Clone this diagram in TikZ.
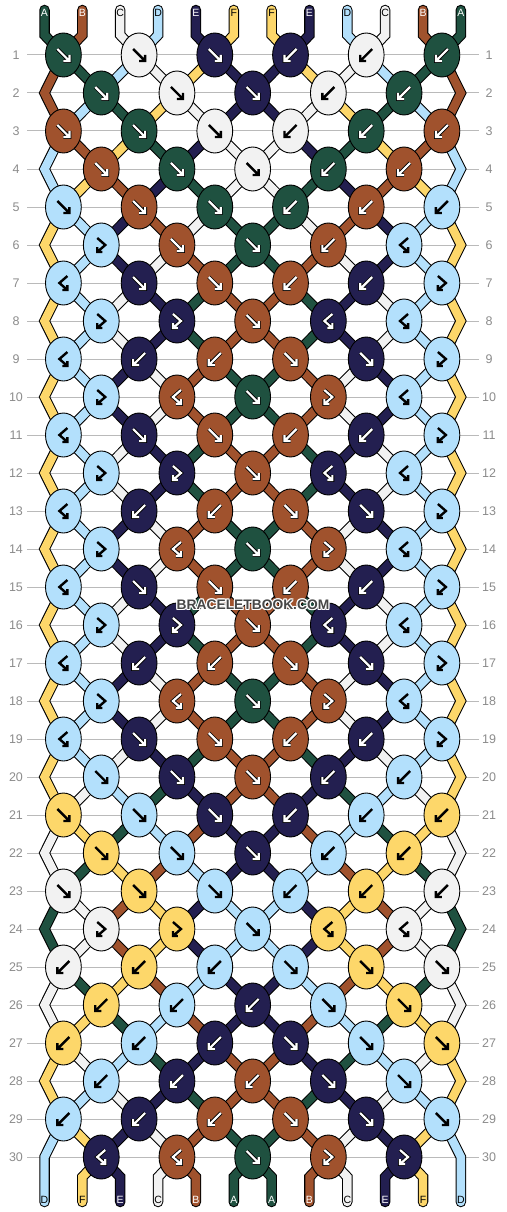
\documentclass[tikz,border=0pt]{standalone}
\usepackage{fontspec}
\setmainfont{Liberation Sans}
\usetikzlibrary{shapes.geometric}
\pgfdeclarelayer{back}
\pgfdeclarelayer{strings}
\pgfsetlayers{back,strings,main}
\definecolor{cA}{HTML}{1F5140}
\definecolor{cB}{HTML}{A0522D}
\definecolor{cC}{HTML}{F2F2F2}
\definecolor{cD}{HTML}{B3E0FC}
\definecolor{cE}{HTML}{231F50}
\definecolor{cF}{HTML}{FDD76A}
\def\dkA{1}\def\dkB{1}\def\dkE{1}\def\dkC{0}\def\dkD{0}\def\dkF{0}
\def\tcA{white}\def\tcB{white}\def\tcE{white}\def\tcC{black}\def\tcD{black}\def\tcF{black}
\newcommand\glyphf[1]{\draw[#1] (-6,-6) -- (6,6) (0,6) -- (6,6) -- (6,0);}
\newcommand\glyphb[1]{\draw[#1] (6,-6) -- (-6,6) (0,6) -- (-6,6) -- (-6,0);}
\newcommand\glyphfb[1]{\draw[#1] (-4,-7) -- (4,0) -- (-4,7) (1,7) -- (-4,7) -- (-4,2);}
\newcommand\glyphbf[1]{\draw[#1] (4,-7) -- (-4,0) -- (4,7) (-1,7) -- (4,7) -- (4,2);}
\tikzset{
 knot/.style={ellipse, draw=black, line width=0.9pt, minimum width=35.8pt, minimum height=44pt, inner sep=0pt},
 strout/.style={line width=10.5pt, draw=black, line cap=round, line join=miter},
 strin/.style={line width=8.4pt, line cap=round, line join=miter},
 gridline/.style={draw=black!27, line width=1pt},
 rowlab/.style={text=black!45, font=\fontsize{12.5}{13}\selectfont, inner sep=0pt},
 strlab/.style={font=\fontsize{10.5}{11}\selectfont, inner sep=0pt},
 arrowout/.style={draw=black, line width=3.8pt},
 arrowwhite/.style={draw=white, line width=2.2pt},
 arrowblack/.style={draw=black, line width=2.4pt},
 wm/.style={font=\bfseries\fontsize{13.8}{14}\selectfont, inner sep=0pt}
}
\begin{document}
\begin{tikzpicture}[x=1pt,y=-1pt]
\useasboundingbox (0,0) rectangle (506,1212);
\begin{pgfonlayer}{back}
\fill[white] (0,0) rectangle (506,1212);
\end{pgfonlayer}
% rows, grid lines, labels
\foreach \r in {1,...,30}{
 \pgfmathsetmacro\yy{55+38*(\r-1)}
 \coordinate (GL-\r) at (27,\yy);
 \coordinate (GR-\r) at (479,\yy);
 \coordinate (EL-\r) at (44.5,\yy);
 \coordinate (ER-\r) at (460.85,\yy);
 \begin{pgfonlayer}{back}\draw[gridline] (GL-\r) -- (GR-\r);\end{pgfonlayer}
 \node[rowlab] (NL-\r) at (16,\yy) {\r};
 \node[rowlab] (NR-\r) at (489,\yy) {\r};
}
% knots
\foreach \r/\spec in {
 1/{f/A,f/C,f/E,b/E,b/C,b/A},
 2/{f/A,f/C,f/E,b/C,b/A},
 3/{f/B,f/A,f/C,b/C,b/A,b/B},
 4/{f/B,f/A,f/C,b/A,b/B},
 5/{f/D,f/B,f/A,b/A,b/B,b/D},
 6/{fb/D,f/B,f/A,b/B,bf/D},
 7/{bf/D,f/E,f/B,b/B,b/E,fb/D},
 8/{fb/D,fb/E,f/B,bf/E,bf/D},
 9/{bf/D,b/E,b/B,f/B,f/E,fb/D},
 10/{fb/D,bf/B,f/A,fb/B,bf/D},
 11/{bf/D,f/E,f/B,b/B,b/E,fb/D},
 12/{fb/D,fb/E,f/B,bf/E,bf/D},
 13/{bf/D,b/E,b/B,f/B,f/E,fb/D},
 14/{fb/D,bf/B,f/A,fb/B,bf/D},
 15/{bf/D,f/E,f/B,b/B,b/E,fb/D},
 16/{fb/D,fb/E,f/B,bf/E,bf/D},
 17/{bf/D,b/E,b/B,f/B,f/E,fb/D},
 18/{fb/D,bf/B,f/A,fb/B,bf/D},
 19/{bf/D,f/E,f/B,b/B,b/E,fb/D},
 20/{f/D,f/E,f/B,b/E,b/D},
 21/{f/F,f/D,f/E,b/E,b/D,b/F},
 22/{f/F,f/D,f/E,b/D,b/F},
 23/{f/C,f/F,f/D,b/D,b/F,b/C},
 24/{fb/C,fb/F,f/D,bf/F,bf/C},
 25/{b/C,b/F,b/D,f/D,f/F,f/C},
 26/{b/F,b/D,b/E,f/D,f/F},
 27/{b/F,b/D,b/E,f/E,f/D,f/F},
 28/{b/D,b/E,b/B,f/E,f/D},
 29/{b/D,b/E,b/B,f/B,f/E,f/D},
 30/{bf/E,bf/B,f/A,fb/B,fb/E}}{
 \pgfmathsetmacro\yy{55+38*(\r-1)}
 \foreach \t/\c [count=\i from 0] in \spec {
   \pgfmathtruncatemacro\k{mod(\r,2)==1 ? 2*\i : 2*\i+1}
   \pgfmathsetmacro\xx{63.4+37.85*\k}
   \node[knot, fill=c\c] (K-\r-\k) at (\xx,\yy) {};
   \begin{scope}[shift={(\xx,\yy)}]
     \if1\csname dk\c\endcsname
       \csname glyph\t\endcsname{arrowout}
       \csname glyph\t\endcsname{arrowwhite}
     \else
       \csname glyph\t\endcsname{arrowblack}
     \fi
   \end{scope}
 }
}
\begin{pgfonlayer}{strings}
% inner string segments
\foreach \r/\st in {
 1/{B,A,D,C,F,E,E,F,C,D,A,B},
 2/{B,D,A,F,C,E,E,C,F,A,D,B},
 3/{D,B,F,A,E,C,C,E,A,F,B,D},
 4/{D,F,B,E,A,C,C,A,E,B,F,D},
 5/{F,D,E,B,C,A,A,C,B,E,D,F},
 6/{F,D,E,C,B,A,A,B,C,E,D,F},
 7/{F,D,C,E,A,B,B,A,E,C,D,F},
 8/{F,D,C,E,A,B,B,A,E,C,D,F},
 9/{F,D,E,C,B,A,A,B,C,E,D,F},
 10/{F,D,E,C,B,A,A,B,C,E,D,F},
 11/{F,D,C,E,A,B,B,A,E,C,D,F},
 12/{F,D,C,E,A,B,B,A,E,C,D,F},
 13/{F,D,E,C,B,A,A,B,C,E,D,F},
 14/{F,D,E,C,B,A,A,B,C,E,D,F},
 15/{F,D,C,E,A,B,B,A,E,C,D,F},
 16/{F,D,C,E,A,B,B,A,E,C,D,F},
 17/{F,D,E,C,B,A,A,B,C,E,D,F},
 18/{F,D,E,C,B,A,A,B,C,E,D,F},
 19/{F,D,C,E,A,B,B,A,E,C,D,F},
 20/{F,C,D,A,E,B,B,E,A,D,C,F},
 21/{C,F,A,D,B,E,E,B,D,A,F,C},
 22/{C,A,F,B,D,E,E,D,B,F,A,C},
 23/{A,C,B,F,E,D,D,E,F,B,C,A},
 24/{A,C,B,F,E,D,D,E,F,B,C,A},
 25/{C,A,F,B,D,E,E,D,B,F,A,C},
 26/{C,F,A,D,B,E,E,B,D,A,F,C},
 27/{F,C,D,A,E,B,B,E,A,D,C,F},
 28/{F,D,C,E,A,B,B,A,E,C,D,F},
 29/{D,F,E,C,B,A,A,B,C,E,F,D}}{
 \pgfmathtruncatemacro\rn{\r+1}
 \foreach \s [count=\p from 0] in \st {
  \ifnum\p>0 \ifnum\p<11
   \pgfmathtruncatemacro\ka{(mod(\r,2)==1) ? (2*floor(\p/2)) : (2*floor((\p-1)/2)+1)}
   \pgfmathtruncatemacro\kb{(mod(\r,2)==1) ? (2*floor((\p-1)/2)+1) : (2*floor(\p/2))}
   \draw[strout] (K-\r-\ka.center) -- (K-\rn-\kb.center);
   \draw[strin,draw=c\s] (K-\r-\ka.center) -- (K-\rn-\kb.center);
  \fi\fi
 }
}
% edge strings
\foreach \r/\s in {2/B,4/D,6/F,8/F,10/F,12/F,14/F,16/F,18/F,20/F,22/C,24/A,26/C,28/F}{
 \pgfmathtruncatemacro\ra{\r-1}
 \pgfmathtruncatemacro\rb{\r+1}
 \draw[strout] (K-\ra-0.center) -- (EL-\r) -- (K-\rb-0.center);
 \draw[strin,draw=c\s] (K-\ra-0.center) -- (EL-\r) -- (K-\rb-0.center);
 \draw[strout] (K-\ra-10.center) -- (ER-\r) -- (K-\rb-10.center);
 \draw[strin,draw=c\s] (K-\ra-10.center) -- (ER-\r) -- (K-\rb-10.center);
}
% top strings
\foreach \s [count=\i from 0] in {A,B,C,D,E,F,F,E,D,C,B,A}{
 \pgfmathsetmacro\xx{44.5+37.85*\i}
 \pgfmathtruncatemacro\k{2*floor(\i/2)}
 \coordinate (TS-\i) at (\xx,10);
 \coordinate (TM-\i) at (\xx,35);
 \draw[strout] (TS-\i) -- (TM-\i) -- (K-1-\k.center);
 \draw[strin,draw=c\s] (TS-\i) -- (TM-\i) -- (K-1-\k.center);
}
% bottom strings
\foreach \s [count=\i from 0] in {D,F,E,C,B,A,A,B,C,E,F,D}{
 \pgfmathsetmacro\xx{44.5+37.85*\i}
 \coordinate (BS-\i) at (\xx,1202);
 \coordinate (BM-\i) at (\xx,1177);
 \ifnum\i=0
  \draw[strout] (K-29-0.center) -- (EL-30) -- (BS-0);
  \draw[strin,draw=c\s] (K-29-0.center) -- (EL-30) -- (BS-0);
 \else\ifnum\i=11
  \draw[strout] (K-29-10.center) -- (ER-30) -- (BS-11);
  \draw[strin,draw=c\s] (K-29-10.center) -- (ER-30) -- (BS-11);
 \else
  \pgfmathtruncatemacro\k{2*floor((\i-1)/2)+1}
  \draw[strout] (K-30-\k.center) -- (BM-\i) -- (BS-\i);
  \draw[strin,draw=c\s] (K-30-\k.center) -- (BM-\i) -- (BS-\i);
 \fi\fi
}
\end{pgfonlayer}
% string letters
\foreach \s [count=\i from 0] in {A,B,C,D,E,F,F,E,D,C,B,A}{
 \pgfmathsetmacro\xx{44.5+37.85*\i}
 \edef\tc{\csname tc\s\endcsname}
 \node[strlab,text=\tc] (TL-\i) at (\xx,12.5) {\s};
}
\foreach \s [count=\i from 0] in {D,F,E,C,B,A,A,B,C,E,F,D}{
 \pgfmathsetmacro\xx{44.5+37.85*\i}
 \edef\tc{\csname tc\s\endcsname}
 \node[strlab,text=\tc] (BL-\i) at (\xx,1199.5) {\s};
}
% watermark
\foreach \dx/\dy [count=\j] in {-1/-1,-1/0,-1/1,0/-1,0/1,1/-1,1/0,1/1}{
 \node[wm,text=white] (WH-\j) at (253+\dx,605+\dy) {BRACELETBOOK.COM};
}
\node[wm,text=black!72] (WM) at (253,605) {BRACELETBOOK.COM};
\end{tikzpicture}
\end{document}
